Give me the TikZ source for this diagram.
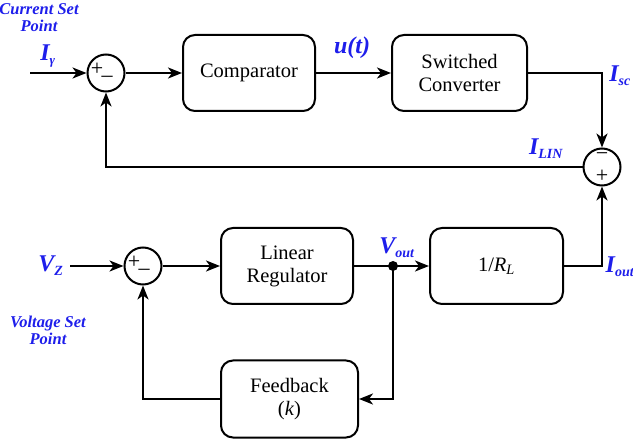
\documentclass[tikz,border=0pt]{standalone}
\usepackage{fontspec}
\setmainfont{Liberation Serif}
\usetikzlibrary{arrows.meta}
\definecolor{lblue}{RGB}{30,30,235}
\begin{document}
\begin{tikzpicture}[x=1pt,y=-1pt,
  blk/.style={draw,line width=2pt,rounded corners=12pt,minimum width=132pt,minimum height=76pt,align=center,font=\fontsize{20.5}{23}\selectfont},
  sumc/.style={draw,circle,line width=2pt,minimum size=37pt,inner sep=0pt},
  wire/.style={line width=2pt},
  arr/.style={wire,-{Stealth[length=14pt,width=11pt,inset=4pt]}},
  lbl/.style={text=lblue,font=\bfseries\itshape\fontsize{24}{26}\selectfont,inner sep=1pt},
  sl/.style={text=lblue,font=\bfseries\itshape\fontsize{16.5}{17}\selectfont,align=center,inner sep=1pt},
  sg/.style={font=\fontsize{22}{22}\selectfont,inner sep=0pt}]
\useasboundingbox (0,0) rectangle (633,441);
% top loop
\node[sumc] (s1) at (106,73) {};
\node[blk] (cmp) at (249,73) {Comparator};
\node[blk,minimum width=135pt] (sw) at (459.5,73) {Switched\\Converter};
\node[sumc] (s2) at (602,167) {};
% bottom loop
\node[sumc] (s3) at (143,266) {};
\node[blk] (lr) at (287,266) {Linear\\Regulator};
\node[blk,minimum width=133pt] (rl) at (496.5,266) {1/\textit{R}\textsubscript{\textit{L}}};
\node[blk,minimum width=137pt,minimum height=77pt] (fb) at (289.5,399) {Feedback\\(\textit{k})};
\fill (393,266) circle (5pt) coordinate (dot);
% signs
\node[sg] at (97,69) {+};
\node[sg] at (107,76) {\_};
\node[sg] at (602,157) {\textminus};
\node[sg] at (602,176) {+};
\node[sg] at (134,262) {+};
\node[sg] at (144,269) {\_};
% inputs
\coordinate (iin) at (30,73);
\coordinate (vin) at (70,266);
\draw[arr] (iin) -- (s1.west);
\draw[arr] (vin) -- (s3.west);
\draw[arr] (s1.east) -- (cmp.west);
\draw[arr] (cmp.east) -- (sw.west);
\draw[arr] (sw.east) -| (s2.north);
\draw[arr] (s2.west) -| (s1.south);
\draw[arr] (s3.east) -- (lr.west);
\draw[wire] (lr.east) -- (dot);
\draw[arr] (dot) -- (rl.west);
\draw[arr] (rl.east) -| (s2.south);
\draw[arr] (dot) |- (fb.east);
\draw[arr] (fb.west) -| (s3.south);
% labels
\node[sl] at (39,18) {Current Set\\Point};
\node[lbl] at (48,56) {I\textsubscript{\fontsize{13}{13}\selectfont γ}};
\node[lbl] at (352,48) {u(t)};
\node[lbl] at (620,76) {I\textsubscript{\fontsize{14}{14}\selectfont sc}};
\node[lbl] at (546,149) {I\textsubscript{\fontsize{14}{14}\selectfont LIN}};
\node[lbl] at (51,266) {V\textsubscript{\fontsize{14}{14}\selectfont Z}};
\node[sl] at (48,330) {Voltage Set\\Point};
\node[lbl] at (397,248) {V\textsubscript{\fontsize{14}{14}\selectfont out}};
\node[lbl] at (620,267) {I\textsubscript{\fontsize{14}{14}\selectfont out}};
\end{tikzpicture}
\end{document}
